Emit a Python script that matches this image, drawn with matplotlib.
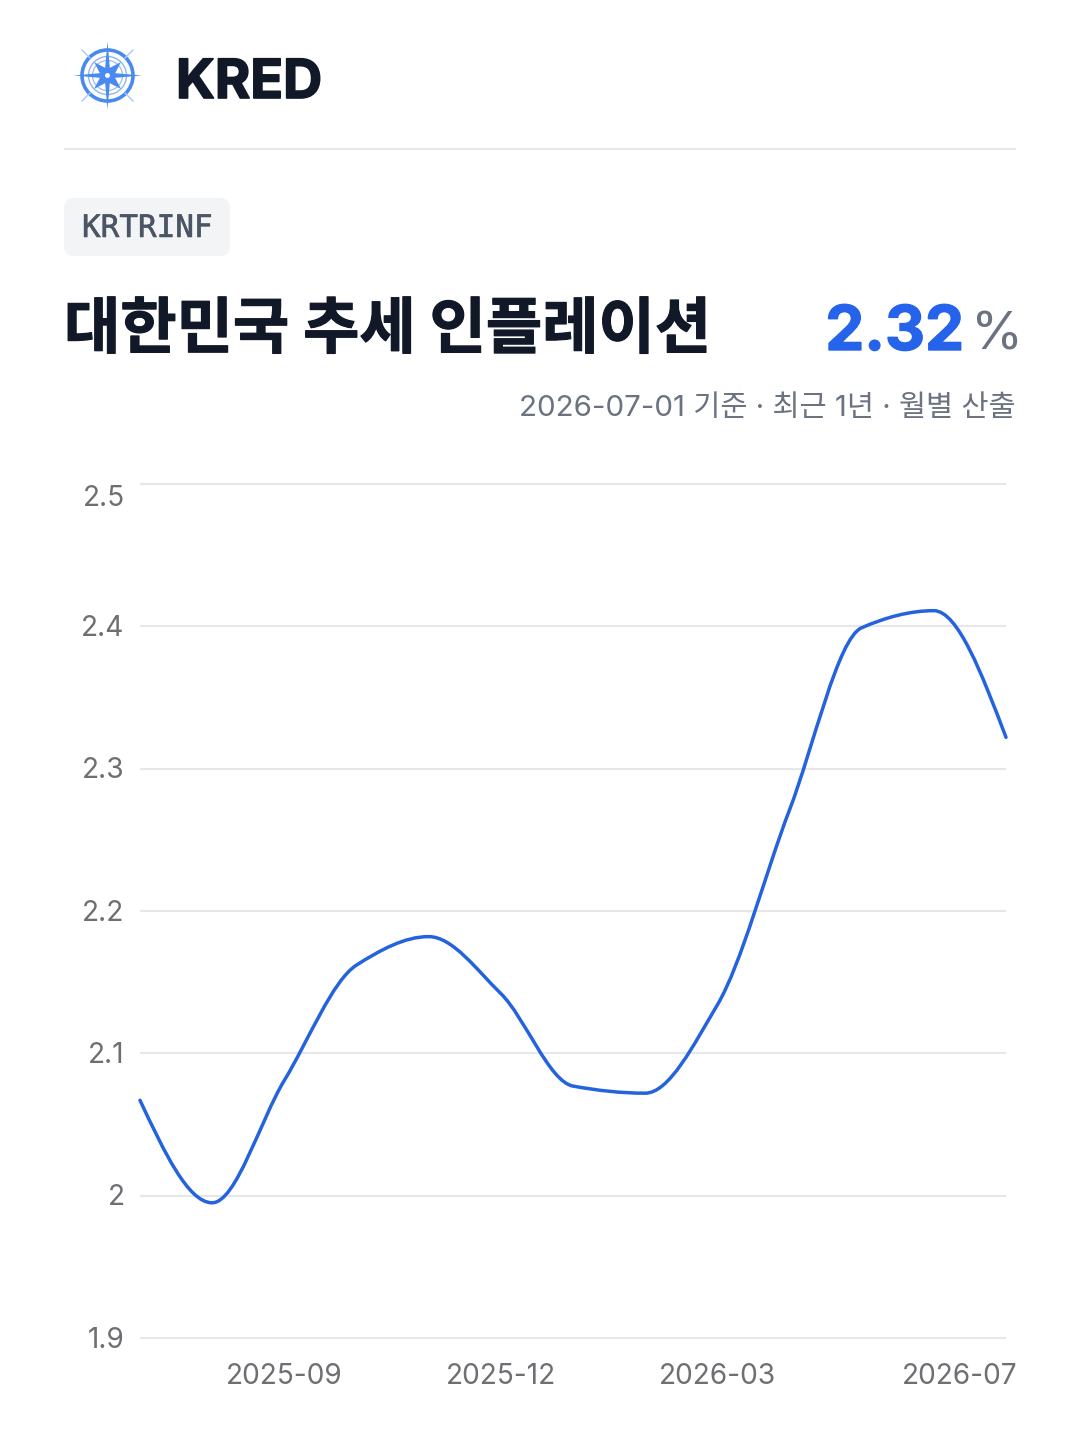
import numpy as np
import matplotlib
matplotlib.use("Agg")
import matplotlib.pyplot as plt
import matplotlib.patheffects as pe
from matplotlib.patches import FancyBboxPatch, Circle, Polygon, PathPatch
from matplotlib.path import Path
from matplotlib.transforms import ScaledTranslation

W, H = 1080, 1440
months = ["2025-07","2025-08","2025-09","2025-10","2025-11","2025-12","2026-01",
          "2026-02","2026-03","2026-04","2026-05","2026-06","2026-07"]
values = [2.067,1.995,2.081,2.162,2.182,2.142,2.077,2.072,2.134,2.271,2.399,2.411,2.322]
y_ticks = [1.9,2.0,2.1,2.2,2.3,2.4,2.5]
y_labels = ["1.9","2","2.1","2.2","2.3","2.4","2.5"]
x_tick_months = ["2025-09","2025-12","2026-03","2026-07"]
title = "대한민국 추세 인플레이션"
brand = "KRED"
code = "KRTRINF"
latest = "2.32"
unit = "%"
subtitle = "2026-07-01 기준 · 최근 1년 · 월별 산출"

LAT = ["Inter", "Noto Sans CJK KR", "DejaVu Sans"]
KR = ["Noto Sans CJK KR", "DejaVu Sans"]
INK, GRAY, BLUE, GRID = "#111827", "#6b7280", "#2563eb", "#e5e7eb"
TICK = "#6e6e73"
px = lambda p: p * 0.72
def bolder(w, c):
    return [pe.withStroke(linewidth=w, foreground=c)]

fig = plt.figure(figsize=(W/100, H/100), dpi=100, facecolor="white")
bg = fig.add_axes([0, 0, 1, 1]); bg.set_xlim(0, W); bg.set_ylim(H, 0); bg.axis("off")

# header
bg.plot([64, 1016], [149, 149], color=GRID, lw=1.5, solid_capstyle="butt")
bg.text(176, 98, brand, family=LAT, weight="bold", fontsize=px(54), color=INK, va="baseline", ha="left",
        path_effects=bolder(1.2, INK))
# compass logo
LB = "#4a8af0"; LT = "#8db6f5"; cx, cy = 107.5, 75.5
c = np.array([cx, cy])
bg.add_patch(Circle((cx, cy), 25.5, fill=False, ec=LB, lw=2.6))
bg.add_patch(Circle((cx, cy), 19, fill=False, ec=LT, lw=1))
bg.add_patch(Circle((cx, cy), 15, fill=False, ec=LT, lw=.8))
for a in np.arange(0, 360, 90):
    r = np.radians(a); n = np.radians(a+90)
    d, e = np.array([np.cos(r), np.sin(r)]), np.array([np.cos(n), np.sin(n)])
    bg.add_patch(Polygon([c+d*34, c+e*3, c-e*3], color=LB, lw=0))
    r2 = np.radians(a+45); n2 = np.radians(a+135)
    d2, e2 = np.array([np.cos(r2), np.sin(r2)]), np.array([np.cos(n2), np.sin(n2)])
    bg.add_patch(Polygon([c+d2*19, c+e2*6, c-e2*6], color=LB, lw=0))
    bg.plot(*zip(c+d2*25, c+d2*36), color="#a9c8f7", lw=1)
bg.add_patch(Circle((cx, cy), 3, fc="white", ec=LB, lw=.8, zorder=5))

# code badge
bg.add_patch(FancyBboxPatch((72, 206), 150, 42, boxstyle="round,pad=8,rounding_size=10", fc="#f3f4f6", ec="none"))
bg.text(82, 237, code, family="DejaVu Sans Mono", fontsize=px(31), color="#4b5563", va="baseline", ha="left",
        path_effects=bolder(0.4, "#4b5563"))

# title block
bg.text(64, 348, title, family=KR, weight="bold", fontsize=px(61.2), color=INK, va="baseline", ha="left",
        path_effects=bolder(0.8, INK))
bg.text(964, 350, latest, family=LAT, weight="bold", fontsize=px(62), color=BLUE, va="baseline", ha="right",
        path_effects=bolder(1.0, BLUE))
bg.text(1023, 350, unit, family=LAT, fontsize=px(53), color=GRAY, va="baseline", ha="right")
bg.text(1016, 416, subtitle, family=LAT, fontsize=px(29.5), color=GRAY, va="baseline", ha="right")

# chart
ax = fig.add_axes([140/W, 1-1338/H, 866/W, (1338-484)/H], facecolor="none")
x = np.arange(len(values), dtype=float)
y = np.array(values)
ax.set_xlim(0, len(values)-1); ax.set_ylim(1.9, 2.5)
for s in ax.spines.values(): s.set_visible(False)
ax.set_yticks(y_ticks, y_labels)
ax.set_xticks([months.index(m) for m in x_tick_months], x_tick_months)
ax.grid(axis="y", color=GRID, lw=1.5); ax.set_axisbelow(True)
for a in ax.get_yaxis().get_gridlines():
    a.set_clip_on(False); a.set_solid_capstyle("butt")
ax.tick_params(length=0)
ax.tick_params(axis="y", pad=11)
ax.tick_params(axis="x", pad=18)
for t in ax.get_yticklabels() + ax.get_xticklabels():
    t.set_family(LAT); t.set_fontsize(px(28)); t.set_color(TICK)
for t in ax.get_yticklabels():
    t.set_verticalalignment("center")
    t.set_transform(t.get_transform() + ScaledTranslation(0, -2.3/100, fig.dpi_scale_trans))
top = ax.get_yticklabels()[-1]
top.set_transform(top.get_transform() + ScaledTranslation(0, -12/100, fig.dpi_scale_trans))
last = ax.get_xticklabels()[-1]
last.set_transform(last.get_transform() + ScaledTranslation(-46/100, 0, fig.dpi_scale_trans))

# monotone cubic path through the monthly values
s = np.diff(y)
m = np.zeros_like(y)
for i in range(1, len(y)-1):
    if s[i-1]*s[i] > 0:
        m[i] = 2*s[i-1]*s[i]/(s[i-1]+s[i])
m[0] = (3*s[0]-m[1])/2; m[-1] = (3*s[-1]-m[-2])/2
verts = [(x[0], y[0])]; codes = [Path.MOVETO]
for i in range(len(y)-1):
    verts += [(x[i]+1/3, y[i]+m[i]/3), (x[i+1]-1/3, y[i+1]-m[i+1]/3), (x[i+1], y[i+1])]
    codes += [Path.CURVE4]*3
ax.add_patch(PathPatch(Path(verts, codes), fill=False, ec="#2563de", lw=2.5, capstyle="round", joinstyle="round", clip_on=False))

fig.savefig("out.png", dpi=100, facecolor="white")
